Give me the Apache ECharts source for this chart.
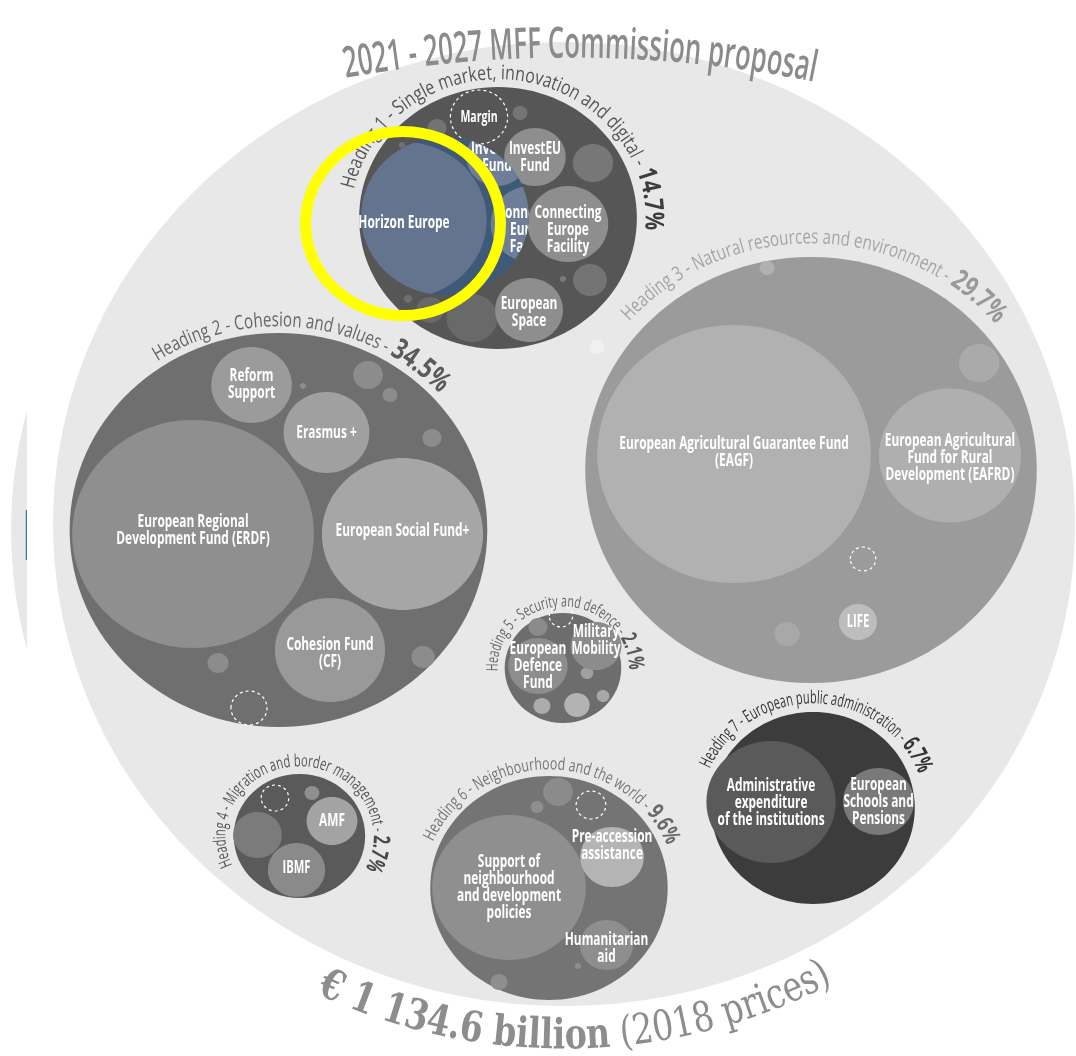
<!DOCTYPE html>
<html><head><meta charset="utf-8">
<script src="https://cdn.jsdelivr.net/npm/echarts@6/dist/echarts.min.js"></script>
<style>html,body{margin:0;padding:0;background:#fff}#c{width:1076px;height:1056px}</style>
</head><body><div id="c"></div>
<script>
// ---------------- values ----------------
const titleText = '2021 - 2027 MFF Commission proposal';
const totalText = ['€ 1 134.6 billion', ' (2018 prices)'];
const headingNames = [
  'Heading 1 - Single market, innovation and digital',
  'Heading 2 - Cohesion and values',
  'Heading 3 - Natural resources and environment',
  'Heading 4 - Migration and border management',
  'Heading 5 - Security and defence',
  'Heading 6 - Neighbourhood and the world',
  'Heading 7 - European public administration'
];
const headingShares = [14.7, 34.5, 29.7, 2.7, 2.1, 9.6, 6.7];
const programmeNames = [
  'Horizon Europe', 'InvestEU\nFund', 'Connecting\nEurope\nFacility', 'European\nSpace', 'Margin',
  'Reform\nSupport', 'Erasmus +', 'European Regional\nDevelopment Fund (ERDF)', 'European Social Fund+', 'Cohesion Fund\n(CF)',
  'European Agricultural Guarantee Fund\n(EAGF)', 'European Agricultural\nFund for Rural\nDevelopment (EAFRD)', 'LIFE',
  'AMF', 'IBMF',
  'European\nDefence\nFund', 'Military\nMobility',
  'Support of\nneighbourhood\nand development\npolicies', 'Pre-accession\nassistance', 'Humanitarian\naid',
  'Administrative\nexpenditure\nof the institutions', 'European\nSchools and\nPensions'
];
const programmeHeading = [0,0,0,0,0, 1,1,1,1,1, 2,2,2, 3,3, 4,4, 5,5,5, 6,6];

// ---------------- layout (data space: y in px, x in px / stretch) ----------------
const STRETCH = 1.06;
const outerLayout = [[532.1, 524, 482]];
const backdropLayout = [[492.5, 530, 482]];
const headingLayout = [[469.8,218,131],[262.7,530,197],[765.1,470,213],[282.5,836,62],[531.1,668,55],[517.9,888,112],[767.0,808,96]];
const headingArcLayout = [[138,-78,95],[203,-34,48],[226,-49,50],[69,-115,118],[61,-93,92],[118,-67,69],[104,-68,71]];
const programmeLayout = [ // x, y, r, label dy
  [381.1,220,78,3],[504.7,157,29,0],[535.8,224,38,6],[499.1,310,32,2],[451.9,117,27,0],
  [237.3,385,38,-1],[308.0,432.5,40.5,0],[182.1,534,114,-4],[379.7,534,76,-3],[311.3,650,52,3],
  [692.5,454,129,-2],[896.2,455.5,67,2],[809.4,622,18,0],
  [313.2,821,24,0],[279.7,870,27,-2],
  [507.5,666,28,0],[562.3,646,24,-6],
  [480.2,887.5,72.5,0],[577.4,857,30,-12],[572.2,945,25,3],
  [727.4,802,61,1],[828.8,801.5,33.5,0]
];
const minorLayout = [
  [490.6,113,7],[412.3,128,9],[559.4,163,19],[556.6,280,16],[531.1,279,3],[445.3,318,24],[405.7,310,13],[384.9,299,4],[379.2,145,3],
  [347.2,375,14],[367.9,395,7],[285.8,386,3],[407.5,438,9],[399.1,657,11],[205.7,663,10],
  [923.6,363,19],[742.5,634,12],[723.6,268,7],
  [563.2,347,7],
  [242.9,835,23],[294.3,793,7],
  [507.5,627,9],[553.8,673,6],[544.3,705,12],[511.3,706,8],[568.9,696,6],
  [526.4,792,14],[506.6,807,6],[545.3,966,3],[470.8,982,8]
];
const reserveLayout = [[234.9,708,17],[814.2,559,12],[259.4,798,13],[529.2,616,11],[557.5,805,14]];
const lensLayout = [[419.8,216,79]];
const ghostLayout = [[468.9,157,29,0,1],[500.9,224,38,6,2]]; // x,y,r,dy, programme index
const ringLayout = [[380.2,223.5,92]];
const titleArc = [537.7, 1165, 1106, -11, 12];
const totalArc = [532.1, 524, 527, -26.5, 29];
const backdropClip = [0, 25.5];          // x-range of visible sliver
const backdropMark = [24.3, 510, 25.5, 560]; // blue edge x0,y0,x1,y1

// ---------------- styles ----------------
const FONT = '"Open Sans", "Noto Sans", sans-serif';
const SLAB = '"DejaVu Serif", serif';
const outerFill = '#e8e8e8';
const headingFill = ['#565656','#6f6f6f','#9b9b9b','#5a5a5a','#6d6d6d','#747474','#3c3c3c'];
const headingTextColor = ['#555555','#666666','#a5a5a5','#555555','#666666','#747474','#333333'];
const headingPctColor = ['#3d3d3d','#5a5a5a','#999999','#4a4a4a','#5a5a5a','#6a6a6a','#333333'];
const headingFont = [[20,26],[20,29],[20,28],[17,23],[16,22],[17,23],[18,24]];
const programmeFill = ['#64748f','#8e8e8e','#8e8e8e','#8e8e8e',null,'#9b9b9b','#a0a0a0','#8f8f8f','#a6a6a6','#999999',
  '#b1b1b1','#afafaf','#bdbdbd','#a3a3a3','#8a8a8a','#8d8d8d','#8c8c8c','#8f8f8f','#b4b4b4','#8e8e8e','#5a5a5a','#797979'];
const programmeFontSize = [18,18,18,18,16, 18,18,18,18,18, 18,18,17, 18,17, 18,18, 18,18,18, 18,18];
const minorFill = ['#757575','#737373','#777777','#747474','#7a7a7a','#696969','#696969','#6e6e6e','#707070',
  '#8c8c8c','#8c8c8c','#8c8c8c','#8c8c8c','#8c8c8c','#8c8c8c',
  '#aaaaaa','#a8a8a8','#b1b1b1','#f0f0f0','#7b7b7b','#8f8f8f',
  '#8a8a8a','#a0a0a0','#b3b3b3','#acacac','#a8a8a8',
  '#8b8b8b','#8e8e8e','#8e8e8e','#8e8e8e'];
const LABEL_SCALE = 0.66;

// ---------------- helpers ----------------
const mctx = document.createElement('canvas').getContext('2d');
function textWidth(s, font) { mctx.font = font; return mctx.measureText(s).width; }

function ellipseOf(api, x, y, r) {
  const c = api.coord([x, y]);
  const s = api.size([r, r]);
  return { cx: c[0], cy: c[1], rx: s[0], ry: s[1] };
}

function arcChildren(api, center, R, t0, t1, segments, bottom) {
  const c = api.coord(center);
  const sz = api.size([R, R]);
  const a = sz[0], b = sz[1];
  const chars = [];
  segments.forEach(sg => Array.from(sg.text).forEach(ch =>
    chars.push({ ch, font: sg.font, fill: sg.fill, fs: sg.size, w: textWidth(ch, sg.font) })));
  const W = chars.reduce((s, q) => s + q.w, 0);
  const rad = Math.PI / 180;
  const rate = t => Math.hypot(a * Math.cos(t), b * Math.sin(t));
  let L = 0; const n = 400; const dt = (t1 - t0) * rad / n;
  for (let i = 0; i < n; i++) L += rate(t0 * rad + (i + 0.5) * dt) * dt;
  const k = L / W;
  let t = t0 * rad;
  return chars.map(q => {
    const h = q.w * k / 2;
    t += h / rate(t);
    const off = 0.32 * q.fs * (bottom ? -1 : 1);
    const f = (b + off) / b;
    const x = c[0] + a * f * Math.sin(t);
    const y = bottom ? c[1] + b * f * Math.cos(t) : c[1] - b * f * Math.cos(t);
    const rot = -Math.atan2(bottom ? -b * Math.sin(t) : b * Math.sin(t), a * Math.cos(t));
    t += h / rate(t);
    return { type: 'text', x, y, rotation: rot, scaleX: k,
      style: { text: q.ch, font: q.font, fill: q.fill, align: 'center', verticalAlign: 'middle' } };
  });
}

function labelEl(api, x, y, text, size) {
  const c = api.coord([x, y]);
  return { type: 'text', x: c[0], y: c[1], scaleX: LABEL_SCALE,
    style: { text, font: `700 ${size}px ${FONT}`, fill: '#ffffff', align: 'center', verticalAlign: 'middle', lineHeight: 17 } };
}

function circleSeries(data, styleFn, z) {
  return {
    type: 'custom', coordinateSystem: 'cartesian2d', data, z, clip: false, silent: true,
    encode: { x: 0, y: 1 },
    renderItem(params, api) {
      const st = styleFn(params.dataIndex);
      if (!st) return null;
      return { type: 'ellipse', shape: ellipseOf(api, api.value(0), api.value(1), api.value(2)), style: st };
    }
  };
}

const dashed = { fill: 'none', stroke: '#ffffff', lineWidth: 1.2, lineDash: [3, 3] };

const chart = echarts.init(document.getElementById('c'));
chart.setOption({
  animation: false,
  backgroundColor: '#ffffff',
  grid: { left: 0, right: 0, top: 0, bottom: 0 },
  xAxis: { type: 'value', min: 0, max: 1076 / STRETCH, show: false },
  yAxis: { type: 'value', min: 0, max: 1056, inverse: true, show: false },
  series: [
    { // sliver of a second copy of the chart at the left edge
      type: 'custom', coordinateSystem: 'cartesian2d', data: backdropLayout, z: 0, clip: false, silent: true,
      encode: { x: 0, y: 1 },
      renderItem(params, api) {
        const e = ellipseOf(api, api.value(0), api.value(1), api.value(2));
        const p0 = api.coord([backdropClip[0], 0]), p1 = api.coord([backdropClip[1], 1056]);
        const m0 = api.coord([backdropMark[0], backdropMark[1]]), m1 = api.coord([backdropMark[2], backdropMark[3]]);
        return { type: 'group', children: [
          { type: 'group', clipPath: { type: 'rect', shape: { x: p0[0], y: p0[1], width: p1[0] - p0[0], height: p1[1] - p0[1] } },
            children: [{ type: 'ellipse', shape: e, style: { fill: outerFill } }] },
          { type: 'rect', shape: { x: m0[0], y: m0[1], width: m1[0] - m0[0], height: m1[1] - m0[1] }, style: { fill: '#2a78b8' } }
        ] };
      }
    },
    circleSeries(outerLayout, () => ({ fill: outerFill }), 1),
    circleSeries(headingLayout, i => ({ fill: headingFill[i] }), 2),
    circleSeries(minorLayout, i => ({ fill: minorFill[i] }), 3),
    circleSeries(reserveLayout, () => dashed, 3),
    circleSeries(programmeLayout, i => i === 0 ? null : (programmeFill[i] ? { fill: programmeFill[i] } : dashed), 3),
    { // highlighted Horizon Europe lens
      type: 'custom', coordinateSystem: 'cartesian2d', data: lensLayout, z: 4, clip: false, silent: true,
      encode: { x: 0, y: 1 },
      renderItem(params, api) {
        const lens = ellipseOf(api, api.value(0), api.value(1), api.value(2));
        const h = programmeLayout[0];
        const children = [];
        ghostLayout.forEach(g => {
          children.push({ type: 'ellipse', shape: ellipseOf(api, g[0], g[1], g[2]), style: { fill: '#6e7d98' } });
          children.push(labelEl(api, g[0], g[1] + g[3], programmeNames[g[4]], programmeFontSize[g[4]]));
        });
        children.push({ type: 'ellipse', shape: ellipseOf(api, h[0], h[1], h[2]), style: { fill: programmeFill[0] } });
        return { type: 'group', children: [
          { type: 'ellipse', shape: lens, style: { fill: '#3f5979' } },
          { type: 'group', clipPath: { type: 'ellipse', shape: lens }, children }
        ] };
      }
    },
    { // programme labels
      type: 'custom', coordinateSystem: 'cartesian2d', z: 5, clip: false, silent: true,
      data: programmeLayout.map(p => [p[0], p[1] + p[3]]), encode: { x: 0, y: 1 },
      renderItem(params, api) {
        const i = params.dataIndex;
        return labelEl(api, api.value(0), api.value(1), programmeNames[i], programmeFontSize[i]);
      }
    },
    { // heading arc labels
      type: 'custom', coordinateSystem: 'cartesian2d', z: 6, clip: false, silent: true,
      data: headingLayout.map(h => [h[0], h[1]]), encode: { x: 0, y: 1 },
      renderItem(params, api) {
        const i = params.dataIndex;
        const [R, t0, t1] = headingArcLayout[i];
        const [fs, pfs] = headingFont[i];
        const segs = [
          { text: headingNames[i] + ' - ', font: `400 ${fs}px ${FONT}`, fill: headingTextColor[i], size: fs },
          { text: headingShares[i].toFixed(1) + '%', font: `700 ${pfs}px ${FONT}`, fill: headingPctColor[i], size: pfs }
        ];
        return { type: 'group', children: arcChildren(api, [api.value(0), api.value(1)], R, t0, t1, segs, false) };
      }
    },
    { // title arc
      type: 'custom', coordinateSystem: 'cartesian2d', z: 6, clip: false, silent: true,
      data: [[titleArc[0], titleArc[1]]], encode: { x: 0, y: 1 },
      renderItem(params, api) {
        const segs = [{ text: titleText, font: `600 43px ${FONT}`, fill: '#8b8b8b', size: 43 }];
        return { type: 'group', children: arcChildren(api, [api.value(0), api.value(1)], titleArc[2], titleArc[3], titleArc[4], segs, false) };
      }
    },
    { // total arc
      type: 'custom', coordinateSystem: 'cartesian2d', z: 6, clip: false, silent: true,
      data: [[totalArc[0], totalArc[1]]], encode: { x: 0, y: 1 },
      renderItem(params, api) {
        const segs = [
          { text: totalText[0], font: `bold 42px ${SLAB}`, fill: '#8d8d8d', size: 42 },
          { text: totalText[1], font: `400 42px ${SLAB}`, fill: '#8d8d8d', size: 42 }
        ];
        return { type: 'group', children: arcChildren(api, [api.value(0), api.value(1)], totalArc[2], totalArc[3], totalArc[4], segs, true) };
      }
    },
    circleSeries(ringLayout, () => ({ fill: 'none', stroke: '#ffff00', lineWidth: 11 }), 7)
  ]
});
</script></body></html>
